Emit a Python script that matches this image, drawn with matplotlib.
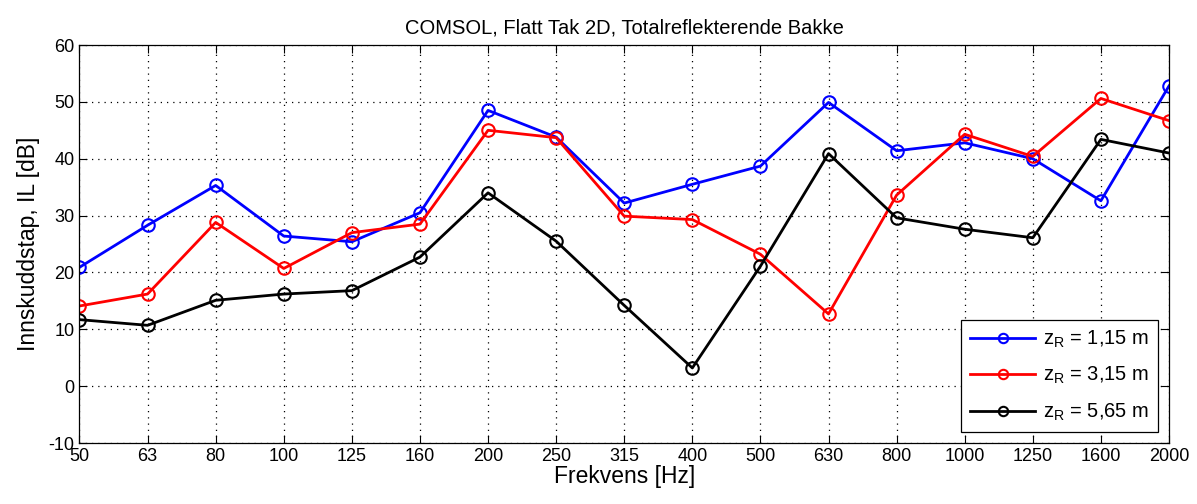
import numpy as np
import matplotlib.pyplot as plt

plt.rcParams['font.family'] = ['Liberation Sans', 'DejaVu Sans']
plt.rcParams['mathtext.fontset'] = 'custom'
plt.rcParams['mathtext.rm'] = 'Liberation Sans'
plt.rcParams['axes.unicode_minus'] = False

# tersband-frekvenser
freqs = ['50', '63', '80', '100', '125', '160', '200', '250', '315', '400',
         '500', '630', '800', '1000', '1250', '1600', '2000']

# innskuddstap for tre mottakerhoyder
il_115 = [20.9, 28.3, 35.3, 26.4, 25.4, 30.5, 48.5, 43.8, 32.2, 35.5,
          38.7, 49.9, 41.4, 42.8, 40.0, 32.6, 52.8]
il_315 = [14.1, 16.2, 28.8, 20.7, 27.0, 28.5, 45.0, 43.7, 29.9, 29.3,
          23.2, 12.7, 33.6, 44.3, 40.4, 50.6, 46.7]
il_565 = [11.7, 10.7, 15.1, 16.2, 16.8, 22.7, 34.0, 25.5, 14.2, 3.2,
          21.1, 40.9, 29.6, 27.6, 26.1, 43.4, 41.0]

labels = [r'z$_\mathregular{R}$ = 1,15 m',
          r'z$_\mathregular{R}$ = 3,15 m',
          r'z$_\mathregular{R}$ = 5,65 m']
colors = ['#0000ff', '#ff0000', '#000000']

fig = plt.figure(figsize=(11.97, 5.04), dpi=100)
ax = fig.add_axes([0.0664, 0.121, 0.9102, 0.7897])

x = np.arange(len(freqs))
for y, lab, c in zip([il_115, il_315, il_565], labels, colors):
    ax.plot(x, y, '-o', color=c, lw=2, ms=9, mfc='none', mew=1.5, label=lab)

ax.set_xlim(0, len(freqs) - 1)
ax.set_ylim(-10, 60)
ax.set_xticks(x)
ax.set_xticklabels(freqs)
ax.set_yticks(np.arange(-10, 61, 10))
ax.tick_params(direction='in', top=True, right=True, labelsize=13, length=6)
ax.grid(True, color='black', linestyle=(0, (1, 4)), linewidth=0.9)
for s in ax.spines.values():
    s.set_linewidth(0.9)

ax.set_title('COMSOL, Flatt Tak 2D, Totalreflekterende Bakke', fontsize=14.5, pad=8)
ax.set_xlabel('Frekvens [Hz]', fontsize=16.5, labelpad=0)
ax.set_ylabel('Innskuddstap, IL [dB]', fontsize=16.5, labelpad=6)

leg = ax.legend(loc='lower right', fontsize=14.5, fancybox=False,
                edgecolor='black', framealpha=1, borderaxespad=0.55,
                handlelength=3.2, handletextpad=0.4, labelspacing=0.75,
                markerscale=0.75, borderpad=0.45)
leg.get_frame().set_linewidth(0.9)

fig.savefig('out.png', dpi=100)
